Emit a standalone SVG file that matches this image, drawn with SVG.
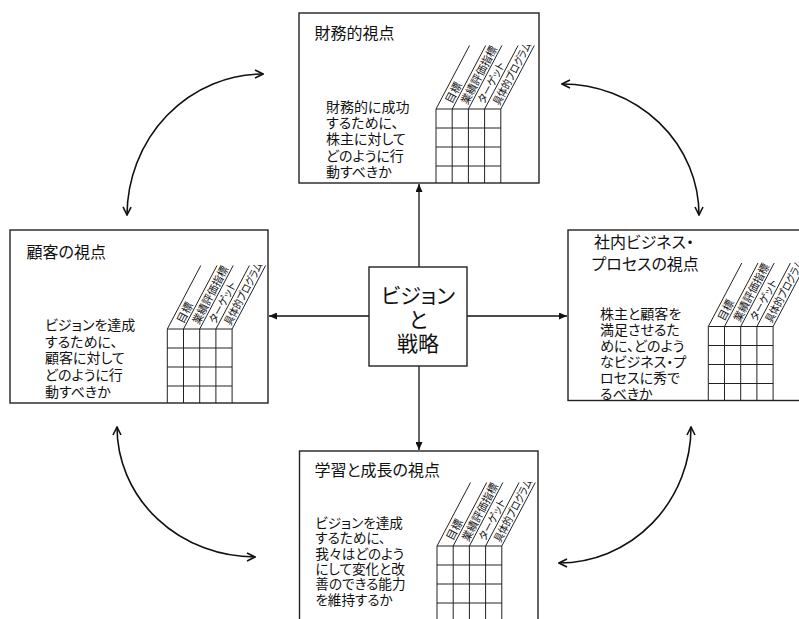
<svg xmlns="http://www.w3.org/2000/svg" xmlns:xlink="http://www.w3.org/1999/xlink" width="799" height="619" viewBox="0 0 799 619">
<style>
text { font-family: "Liberation Sans", "Noto Sans CJK JP", sans-serif; fill: #111; font-feature-settings: "palt" 1; }
.box { fill: #fff; stroke: #222; stroke-width: 1.4; }
.title { font-size: 16px; }
.body { font-size: 14px; }
.bodys { font-size: 13.6px; }
.center { font-size: 21px; text-anchor: middle; }
.lbl { font-size: 11px; }
.gl { stroke: #222; stroke-width: 1; fill: none; }
.conn { stroke: #111; stroke-width: 1.3; fill: none; }
.curve { stroke: #111; stroke-width: 1.6; fill: none; }
</style>
<defs>
<marker id="tri" viewBox="0 0 8 7" refX="8" refY="3.5" markerWidth="8" markerHeight="7" markerUnits="userSpaceOnUse" orient="auto">
<path d="M0,0 L8,3.5 L0,7 z" fill="#111"/>
</marker>
<marker id="vee" viewBox="0 0 10 10" refX="9" refY="5" markerWidth="10" markerHeight="10" markerUnits="userSpaceOnUse" orient="auto-start-reverse">
<path d="M1,1 L9,5 L1,9" fill="none" stroke="#111" stroke-width="1.6"/>
</marker>
<g id="matrix">
<path class="gl" d="M0,0 H64.8 M0,19 H64.8 M0,38 H64.8 M0,57 H64.8 M0,0 V74 M16.2,0 V74 M32.4,0 V74 M48.6,0 V74 M64.8,0 V74"/>
<path class="gl" d="M0,0 l33.5,-63.5 M16.2,0 l33.5,-63.5 M32.4,0 l33.5,-63.5 M48.6,0 l33.5,-63.5 M64.8,0 l33.5,-63.5"/>
<text class="lbl" transform="translate(16.2,0) rotate(-62.2)" x="4" y="-2.5">目標</text>
<text class="lbl" transform="translate(32.4,0) rotate(-62.2)" x="3" y="-2.5" textLength="64" lengthAdjust="spacingAndGlyphs">業績評価指標</text>
<text class="lbl" transform="translate(48.6,0) rotate(-62.2)" x="4" y="-2.5" textLength="45" lengthAdjust="spacingAndGlyphs">ターゲット</text>
<text class="lbl" transform="translate(64.8,0) rotate(-62.2)" x="2" y="-2.5" textLength="69" lengthAdjust="spacingAndGlyphs">具体的プログラム</text>
</g>
</defs>

<g id="connectors">
<line class="conn" x1="419" y1="267" x2="419" y2="184" marker-end="url(#tri)"/>
<line class="conn" x1="419" y1="366" x2="419" y2="450" marker-end="url(#tri)"/>
<line class="conn" x1="369" y1="316" x2="269" y2="316" marker-end="url(#tri)"/>
<line class="conn" x1="467" y1="316" x2="567" y2="316" marker-end="url(#tri)"/>
<path class="curve" d="M263,74 A136,142 0 0 0 127,215" marker-start="url(#vee)" marker-end="url(#vee)"/>
<path class="curve" d="M562,84 A137,131 0 0 1 699,215" marker-start="url(#vee)" marker-end="url(#vee)"/>
<path class="curve" d="M117,427 A138,130 0 0 0 255,557" marker-start="url(#vee)" marker-end="url(#vee)"/>
<path class="curve" d="M691,427 A132,136 0 0 1 559,563" marker-start="url(#vee)" marker-end="url(#vee)"/>
</g>

<g id="financial">
<rect class="box" x="299" y="13" width="240" height="170"/>
<text class="title" x="314.5" y="39">財務的視点</text>
<text class="body" x="326" y="112">財務的に成功<tspan x="326" dy="16.2">するために、</tspan><tspan x="326" dy="16.2">株主に対して</tspan><tspan x="326" dy="16.2">どのように行</tspan><tspan x="326" dy="16.2">動すべきか</tspan></text>
<use xlink:href="#matrix" href="#matrix" transform="translate(436,109)"/>
</g>

<g id="customer">
<rect class="box" x="10" y="230" width="258" height="173"/>
<text class="title" x="26.5" y="257.5">顧客の視点</text>
<text class="body" x="45" y="330">ビジョンを達成<tspan x="45" dy="16.7">するために、</tspan><tspan x="45" dy="16.7">顧客に対して</tspan><tspan x="45" dy="16.7">どのように行</tspan><tspan x="45" dy="16.7">動すべきか</tspan></text>
<use xlink:href="#matrix" href="#matrix" transform="translate(167.3,329)"/>
</g>

<g id="internal">
<rect class="box" x="568" y="230" width="250" height="170.5"/>
<text class="title" x="594" y="248">社内ビジネス・<tspan x="591.5" dy="22">プロセスの視点</tspan></text>
<text class="body" x="600" y="318.5">株主と顧客を<tspan x="600" dy="16.1">満足させるた</tspan><tspan x="600" dy="16.1">めに、どのよう</tspan><tspan x="600" dy="16.1">なビジネス・プ</tspan><tspan x="600" dy="16.1">ロセスに秀で</tspan><tspan x="600" dy="16.1">るべきか</tspan></text>
<use xlink:href="#matrix" href="#matrix" transform="translate(708.3,326.5)"/>
</g>

<g id="learning">
<rect class="box" x="299.5" y="451" width="238.5" height="200"/>
<text class="title" x="314.5" y="476">学習と成長の視点</text>
<text class="bodys" x="315.3" y="528">ビジョンを達成<tspan x="315.3" dy="15.3">するために、</tspan><tspan x="315.3" dy="15.3">我々はどのよう</tspan><tspan x="315.3" dy="15.3">にして変化と改</tspan><tspan x="315.3" dy="15.3">善のできる能力</tspan><tspan x="315.3" dy="15.3">を維持するか</tspan></text>
<use xlink:href="#matrix" href="#matrix" transform="translate(437,546)"/>
</g>

<g id="vision">
<rect class="box" x="369" y="267" width="98" height="99"/>
<text class="center" x="418" y="303">ビジョン<tspan x="418" dy="24">と</tspan><tspan x="418" dy="24">戦略</tspan></text>
</g>
</svg>
